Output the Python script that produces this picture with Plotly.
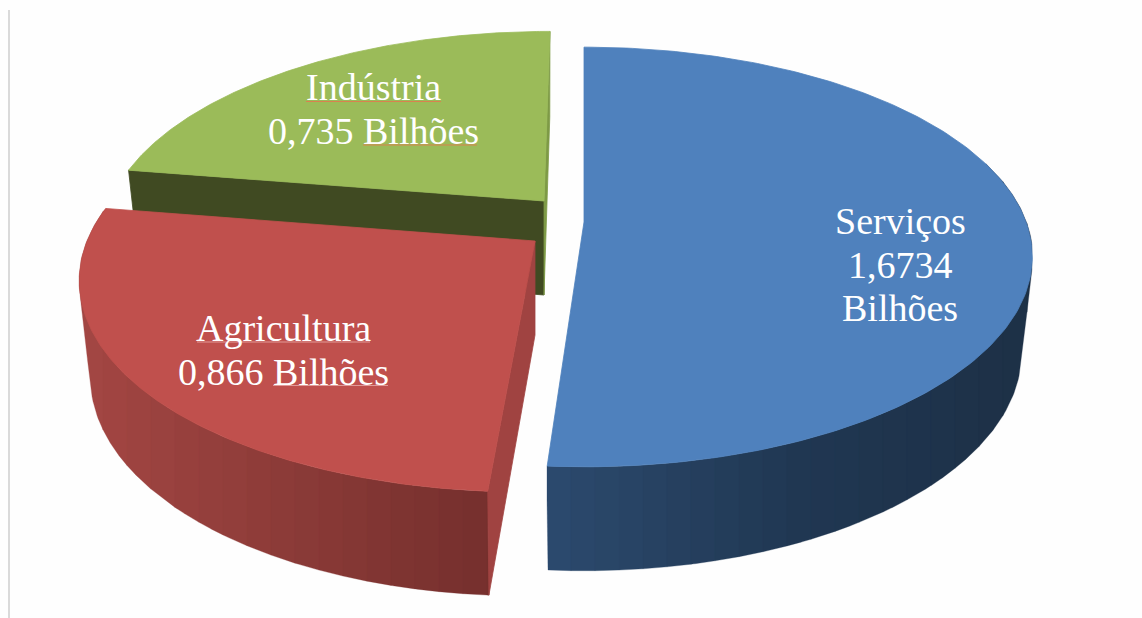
import numpy as np
import plotly.graph_objects as go

# Economic sectors and their values, in billions
categories = ["Serviços", "Agricultura", "Indústria"]
values = [1.6734, 0.866, 0.735]
label_lines = [
    ["Serviços", "1,6734", "Bilhões"],
    ["Agricultura", "0,866 Bilhões"],
    ["Indústria", "0,735 Bilhões"],
]

# Flat colours for the top faces and radial walls
top_colors = ["#4f81bd", "#c0504d", "#9bbb59"]

# Disc projection parameters (pixel space of the 1142x618 canvas)
RX, RY, PERSP = 442.0, 204.0, 1 / 6
DEPTH, DEPTH_PERSP, BOTTOM_X = 94.0, 0.096, 0.975

# Per-slice placement after explosion: apex, scales and small shear
slice_geom = {
    "Serviços": dict(apex=(584, 222), sx=1.0, sy=1.0, shear=0.0),
    "Agricultura": dict(apex=(535, 241), sx=1.013, sy=1.025, shear=-0.04),
    "Indústria": dict(apex=(544, 201), sx=0.98, sy=0.97, shear=-0.035),
}

# Outer wall shading by screen x: (x, rgb)
wall_ramps = {
    "Serviços": [(548, (44, 74, 110)), (800, (32, 55, 82)), (1032, (29, 48, 70))],
    "Agricultura": [(85, (163, 70, 67)), (370, (130, 54, 51)), (490, (117, 47, 45))],
}
BAND_PX = 24


def project(geom, t):
    """Map pie angles (clockwise from the rear) to top-face screen points."""
    u, v = np.sin(t), np.cos(t)
    s = 1 / (1 + PERSP * v)
    dx, dy = RX * u * s * geom["sx"], -RY * v * s * geom["sy"]
    return geom["apex"][0] + dx + geom["shear"] * dy, geom["apex"][1] + dy


def project_bottom(geom, t):
    """Same angles on the lower face of the disc."""
    x, y = project(geom, t)
    v = np.cos(t)
    return (
        geom["apex"][0] + (x - geom["apex"][0]) * BOTTOM_X,
        y + DEPTH / (1 + DEPTH_PERSP * v),
    )


def ramp_color(ramp, x):
    xs = [p[0] for p in ramp]
    rgb = [np.interp(x, xs, [p[1][i] for p in ramp]) for i in range(3)]
    return "rgb({:.0f},{:.0f},{:.0f})".format(*rgb)


def polygon(xs, ys, color, stroke=0.8):
    return go.Scatter(
        x=list(xs), y=list(ys), mode="lines", fill="toself", fillcolor=color,
        line=dict(color=color, width=stroke), hoverinfo="skip", showlegend=False,
    )


def pie_spans():
    """Angular span of each category; Serviços starts at the rear, clockwise."""
    fractions = np.array(values) / sum(values)
    edges = np.concatenate([[0], np.cumsum(fractions)]) * 2 * np.pi
    return {c: (edges[i], edges[i + 1]) for i, c in enumerate(categories)}


spans = pie_spans()
fig = go.Figure()


def radial_wall(name, angle, color):
    g = slice_geom[name]
    ax, ay = g["apex"]
    tx, ty = project(g, angle)
    bx, by = project_bottom(g, angle)
    fig.add_trace(polygon([ax, tx, bx, ax, ax], [ay, ty, by, ay + DEPTH, ay], color))


def outer_wall(name):
    """Shade the camera-facing curved side in vertical bands of constant colour."""
    g = slice_geom[name]
    a0, a1 = spans[name]
    t = np.linspace(a0, a1, 4000)
    t = t[np.cos(t) < 0.3]
    tx, ty = project(g, t)
    bx, by = project_bottom(g, t)
    lam = np.linspace(0, 1, 80)[:, None]
    px = (tx + (bx - tx) * lam).ravel()
    py = (ty + (by - ty) * lam).ravel()

    # Upper and lower screen-space envelope, sampled per pixel column
    cols = np.arange(np.floor(px.min()), np.ceil(px.max()) + 1)
    idx = np.clip(np.round(px - cols[0]).astype(int), 0, len(cols) - 1)
    upper = np.full(len(cols), np.inf)
    lower = np.full(len(cols), -np.inf)
    np.minimum.at(upper, idx, py)
    np.maximum.at(lower, idx, py)
    filled = np.isfinite(upper)
    cols, upper, lower = cols[filled], upper[filled], lower[filled]

    for start in range(0, len(cols) - 1, BAND_PX):
        stop = min(start + BAND_PX, len(cols) - 1)
        xs = np.r_[cols[start:stop + 1], cols[start:stop + 1][::-1], cols[start]]
        ys = np.r_[upper[start:stop + 1], lower[start:stop + 1][::-1], upper[start]]
        mid = (cols[start] + cols[stop]) / 2
        fig.add_trace(polygon(xs, ys, ramp_color(wall_ramps[name], mid), stroke=0.3))


def top_face(name, color):
    g = slice_geom[name]
    a0, a1 = spans[name]
    t = np.linspace(a0, a1, 200)
    x, y = project(g, t)
    ax, ay = g["apex"]
    fig.add_trace(polygon(np.r_[ax, x, ax], np.r_[ay, y, ay], color))


# Painter's order: rear slice first, front slices on top
radial_wall("Indústria", spans["Indústria"][0], "#404a22")
radial_wall("Indústria", spans["Indústria"][1], "#7e9a46")
top_face("Indústria", top_colors[2])

outer_wall("Agricultura")
radial_wall("Agricultura", spans["Agricultura"][0], "#a04341")
top_face("Agricultura", top_colors[1])

outer_wall("Serviços")
top_face("Serviços", top_colors[0])

# Text blocks: centre x and first baseline of each label
label_anchor = {"Serviços": (900, 234), "Agricultura": (283, 341), "Indústria": (373, 100)}
LINE_STEP = 43.5
annotations = []
for name, lines in zip(categories, label_lines):
    cx, base = label_anchor[name]
    for i, line in enumerate(lines):
        annotations.append(dict(
            x=cx, y=base + i * LINE_STEP - 13, xref="x", yref="y", text=line,
            showarrow=False, xanchor="center", yanchor="middle",
            font=dict(family="Liberation Serif", size=38, color="#ffffff"),
        ))

# Proofing underlines beneath the words and the page's left rule
shapes = [
    dict(type="line", x0=306, x1=441, y0=101.5, y1=101.5, line=dict(color="#d9814f", width=1)),
    dict(type="line", x0=363, x1=477, y0=145, y1=145, line=dict(color="#d9814f", width=1)),
    dict(type="line", x0=197, x1=370, y0=342, y1=342, line=dict(color="#e29a98", width=1)),
    dict(type="line", x0=273, x1=388, y0=385.5, y1=385.5, line=dict(color="#e29a98", width=1)),
    dict(type="line", x0=9, x1=9, y0=10, y1=618, line=dict(color="#dadada", width=2)),
]

fig.update_layout(
    width=1142, height=618, margin=dict(l=0, r=0, t=0, b=0),
    paper_bgcolor="#fefefe", plot_bgcolor="#fefefe", showlegend=False,
    xaxis=dict(range=[0, 1142], visible=False, fixedrange=True),
    yaxis=dict(range=[618, 0], visible=False, fixedrange=True),
    annotations=annotations, shapes=shapes,
)
fig.write_html("out.html", config=dict(displayModeBar=False))
